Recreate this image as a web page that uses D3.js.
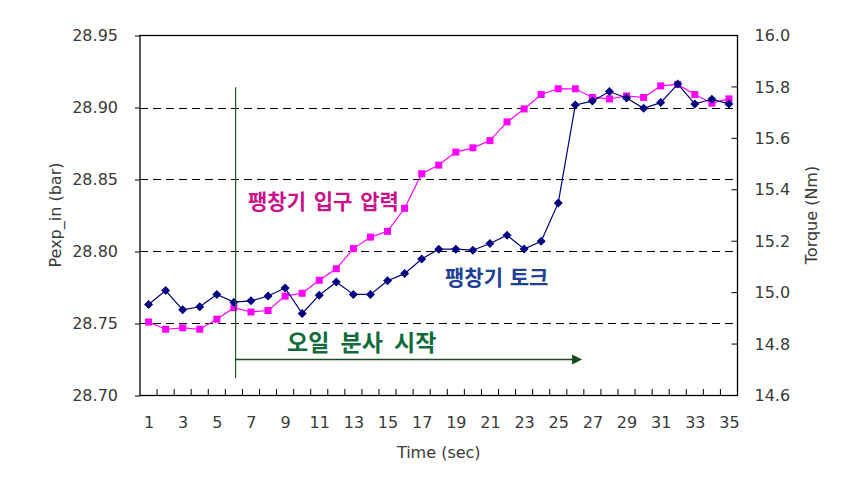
<!DOCTYPE html>
<html>
<head>
<meta charset="utf-8">
<script src="https://cdn.jsdelivr.net/npm/d3@7"></script>
<style>
  html, body { margin: 0; padding: 0; background: #fff; }
  svg { display: block; }
</style>
</head>
<body>
<svg id="chart" width="846" height="481"></svg>
<script>
// ---- data ----
const time = d3.range(1, 36);
const xTickLabels = [1,3,5,7,9,11,13,15,17,19,21,23,25,27,29,31,33,35];
const pressure = [28.751,28.746,28.747,28.746,28.753,28.761,28.758,28.759,28.769,28.771,
                  28.780,28.788,28.802,28.810,28.814,28.830,28.854,28.860,28.869,28.872,
                  28.877,28.890,28.899,28.909,28.913,28.913,28.907,28.906,28.908,28.907,
                  28.915,28.916,28.909,28.903,28.906];
const torque = [14.954,15.008,14.933,14.945,14.993,14.963,14.968,14.987,15.018,14.919,
                14.990,15.041,14.993,14.993,15.046,15.074,15.131,15.169,15.169,15.165,
                15.191,15.223,15.170,15.200,15.349,15.730,15.745,15.782,15.757,15.717,
                15.739,15.811,15.734,15.752,15.734];
const leftTicks = [28.70,28.75,28.80,28.85,28.90,28.95];
const rightTicks = [14.6,14.8,15.0,15.2,15.4,15.6,15.8,16.0];
const gridValues = [28.75,28.80,28.85,28.90];
const oilStart = 6.1, oilArrowEnd = 26.4;

// ---- layout ----
const L = 140, R = 737.5, T = 35.5, B = 395.5;
const svg = d3.select("#chart");
const x = d3.scaleLinear().domain([0.5, 35.5]).range([L, R]);
const yL = d3.scaleLinear().domain([28.70, 28.95]).range([B, T]);
const yR = d3.scaleLinear().domain([14.6, 16.0]).range([B, T]);
const axisFont = "DejaVu Sans, sans-serif";
const textCol = "#3a3a3a";

// gridlines
svg.append("g").selectAll("line").data(gridValues).join("line")
  .attr("x1", L).attr("x2", R)
  .attr("y1", d => Math.round(yL(d)) + 0.5).attr("y2", d => Math.round(yL(d)) + 0.5)
  .attr("stroke", "#000").attr("stroke-width", 1).attr("stroke-dasharray", "8,5");

// frame
svg.append("rect").attr("x", L).attr("y", T).attr("width", R - L).attr("height", B - T)
  .attr("fill", "none").attr("stroke", "#000").attr("stroke-width", 1.3);

// left axis
const gl = svg.append("g").attr("transform", `translate(${L},0)`)
  .call(d3.axisLeft(yL).tickValues(leftTicks).tickFormat(d3.format(".2f")).tickSize(5).tickPadding(17));
gl.select(".domain").remove();
gl.selectAll("line").attr("stroke", "#000");
gl.selectAll("text").attr("font-family", axisFont).attr("font-size", 16).attr("fill", textCol);

// right axis (ticks inside)
const gr = svg.append("g").attr("transform", `translate(${R},0)`)
  .call(d3.axisRight(yR).tickValues(rightTicks).tickFormat(d3.format(".1f")).tickSize(0).tickPadding(17));
gr.select(".domain").remove();
gr.selectAll("text").attr("font-family", axisFont).attr("font-size", 16).attr("fill", textCol);
svg.append("g").selectAll("line").data(rightTicks).join("line")
  .attr("x1", R - 6).attr("x2", R)
  .attr("y1", d => yR(d)).attr("y2", d => yR(d)).attr("stroke", "#000");

// bottom axis: tick marks at category boundaries, pointing up
const bounds = d3.range(1, 35).map(i => i + 0.5);
svg.append("g").selectAll("line").data(bounds).join("line")
  .attr("x1", d => x(d)).attr("x2", d => x(d))
  .attr("y1", B - 6.5).attr("y2", B).attr("stroke", "#000");
const gb = svg.append("g").attr("transform", `translate(0,${B})`)
  .call(d3.axisBottom(x).tickValues(xTickLabels).tickFormat(d3.format("d")).tickSize(0).tickPadding(21));
gb.select(".domain").remove();
gb.selectAll("text").attr("font-family", axisFont).attr("font-size", 16).attr("fill", textCol);

// axis titles
svg.append("text").attr("x", (L + R) / 2).attr("y", 458).attr("text-anchor", "middle")
  .attr("font-family", axisFont).attr("font-size", 16).attr("fill", textCol).text("Time (sec)");
svg.append("text").attr("transform", "translate(61,215) rotate(-90)").attr("text-anchor", "middle")
  .attr("font-family", axisFont).attr("font-size", 16).attr("fill", textCol).text("Pexp_in (bar)");
svg.append("text").attr("transform", "translate(817,215) rotate(-90)").attr("text-anchor", "middle")
  .attr("font-family", axisFont).attr("font-size", 16).attr("fill", textCol).text("Torque (Nm)");

// pressure series
const lineP = d3.line().x((d, i) => x(time[i])).y(d => yL(d));
svg.append("path").datum(pressure).attr("d", lineP)
  .attr("fill", "none").attr("stroke", "#ff00ff").attr("stroke-width", 1.2);
svg.append("g").selectAll("rect").data(pressure).join("rect")
  .attr("x", (d, i) => x(time[i]) - 3.5).attr("y", d => yL(d) - 3.5)
  .attr("width", 7).attr("height", 7).attr("fill", "#ff00ff");

// torque series
const lineT = d3.line().x((d, i) => x(time[i])).y(d => yR(d));
svg.append("path").datum(torque).attr("d", lineT)
  .attr("fill", "none").attr("stroke", "#000080").attr("stroke-width", 1.2);
svg.append("g").selectAll("path.m").data(torque).join("path")
  .attr("transform", (d, i) => `translate(${x(time[i])},${yR(d)})`)
  .attr("d", "M0,-4.5L4.5,0L0,4.5L-4.5,0Z").attr("fill", "#000080");

// oil injection marker line and arrow
svg.append("line").attr("x1", x(oilStart)).attr("x2", x(oilStart))
  .attr("y1", yL(28.914)).attr("y2", yL(28.712))
  .attr("stroke", "#1e5a32").attr("stroke-width", 1.2);
const ay = yL(28.725);
svg.append("line").attr("x1", x(oilStart)).attr("x2", x(oilArrowEnd) - 8)
  .attr("y1", ay).attr("y2", ay).attr("stroke", "#1a4a1e").attr("stroke-width", 1.5);
const tip = x(oilArrowEnd);
svg.append("path").attr("d", `M${tip},${ay}L${tip - 10},${ay - 5}L${tip - 10},${ay + 5}Z`)
  .attr("fill", "#1a4a1e");

// annotations
const krFont = "'Noto Sans CJK KR', sans-serif";
svg.append("text").attr("x", 248).attr("y", 209).attr("font-family", krFont)
  .attr("font-weight", "bold").attr("font-size", 21).attr("word-spacing", 3)
  .attr("fill", "#cc0f8a").text("팽창기 입구 압력");
svg.append("text").attr("x", 445).attr("y", 285).attr("font-family", krFont)
  .attr("font-weight", "bold").attr("font-size", 21).attr("word-spacing", 2)
  .attr("fill", "#203f96").text("팽창기 토크");
svg.append("text").attr("x", 287).attr("y", 351).attr("font-family", krFont)
  .attr("font-weight", "bold").attr("font-size", 23).attr("word-spacing", 6)
  .attr("fill", "#0f6b3c").text("오일 분사 시작");
</script>
</body>
</html>
